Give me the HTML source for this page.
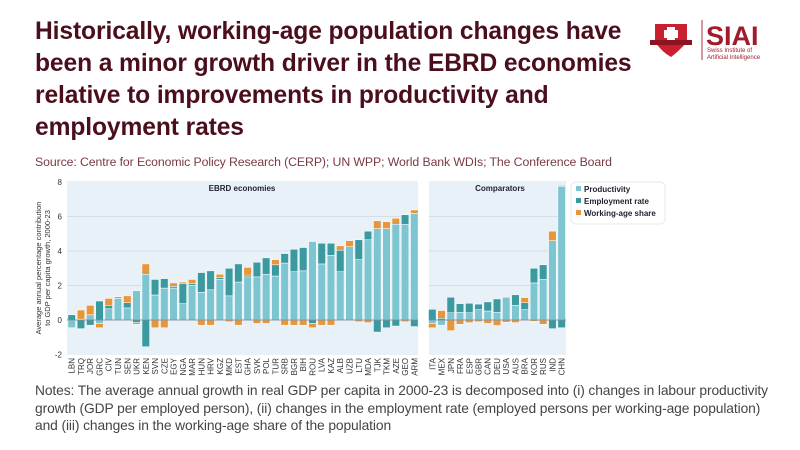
<!DOCTYPE html>
<html><head><meta charset="utf-8"><style>
body{margin:0;width:800px;height:450px;background:#fff;overflow:hidden;position:relative;font-family:"Liberation Sans",sans-serif}
#title{position:absolute;left:35px;top:16px;font-size:24.6px;font-weight:bold;line-height:32px;color:#4a0e1c;letter-spacing:-0.1px;white-space:nowrap}
#src{position:absolute;left:35px;top:155px;font-size:12.3px;color:#7a3a44;letter-spacing:-0.1px;white-space:nowrap}
#notes{position:absolute;left:35px;top:382px;font-size:13.8px;line-height:17.5px;color:#444;white-space:nowrap;letter-spacing:-0.1px}
svg{position:absolute;left:0;top:0}
</style></head><body>
<div id="title">Historically, working-age population changes have<br>been a minor growth driver in the EBRD economies<br>relative to improvements in productivity and<br>employment rates</div>
<div id="src">Source: Centre for Economic Policy Research (CERP); UN WPP; World Bank WDIs; The Conference Board</div>
<svg width="800" height="450" id="s" font-family="Liberation Sans, sans-serif">
<rect x="67" y="181" width="351" height="174" fill="#e9f1f8"/>
<rect x="429" y="181" width="137" height="174" fill="#e9f1f8"/>
<g stroke="#d5dde6" stroke-width="1">
<line x1="67" x2="418" y1="216.5" y2="216.5"/><line x1="67" x2="418" y1="251" y2="251"/><line x1="67" x2="418" y1="285.5" y2="285.5"/>
<line x1="429" x2="566" y1="216.5" y2="216.5"/><line x1="429" x2="566" y1="251" y2="251"/><line x1="429" x2="566" y1="285.5" y2="285.5"/>
</g>
<g id="bars"></g>
<line x1="67" x2="418" y1="320" y2="320" stroke="#6a7a88" stroke-width="0.8"/>
<line x1="429" x2="566" y1="320" y2="320" stroke="#6a7a88" stroke-width="0.8"/>
<g font-size="8" fill="#333" text-anchor="end">
<text x="62" y="185">8</text><text x="62" y="219.5">6</text><text x="62" y="254">4</text><text x="62" y="288.5">2</text><text x="62" y="323">0</text><text x="62" y="357.5">-2</text>
</g>
<text transform="translate(41,268) rotate(-90)" font-size="7.5" fill="#333" text-anchor="middle">Average annual percentage contribution</text>
<text transform="translate(50,268) rotate(-90)" font-size="7.5" fill="#333" text-anchor="middle">to GDP per capita growth, 2000-23</text>
<text x="242" y="191" font-size="8" font-weight="bold" fill="#223" text-anchor="middle">EBRD economies</text>
<text x="500" y="191" font-size="8" font-weight="bold" fill="#223" text-anchor="middle">Comparators</text>
<rect x="571" y="182" width="94" height="42" rx="5" fill="#fff" stroke="#e4e8ee"/>
<rect x="576" y="186" width="5" height="5" fill="#7ec5d2"/><rect x="576" y="198" width="5" height="5" fill="#3a9aa0"/><rect x="576" y="210" width="5" height="5" fill="#e8963c"/>
<g font-size="8" font-weight="bold" fill="#223"><text x="584" y="192">Productivity</text><text x="584" y="204">Employment rate</text><text x="584" y="216">Working-age share</text></g>
<g id="lab" font-size="8" fill="#333" text-anchor="end"></g>
<g>
<path d="M655 24 L687 24 L687 42 Q678 52 671 57 Q662 52 655 42 Z" fill="#c8202e"/>
<rect x="667" y="27" width="8" height="14" fill="#fff"/><rect x="664" y="30" width="14" height="8" fill="#fff"/>
<rect x="650" y="40" width="42" height="5" fill="#8a1420"/>
<line x1="702" y1="20" x2="702" y2="60" stroke="#b03040" stroke-width="1"/>
<text x="706" y="45" font-size="27" font-weight="bold" fill="#a01c2c">SIAI</text>
<text x="707" y="52" font-size="6" fill="#a01c2c">Swiss Institute of</text>
<text x="707" y="59" font-size="6" fill="#a01c2c">Artificial Intelligence</text>
</g>
</svg>
<div id="notes">Notes: The average annual growth in real GDP per capita in 2000-23 is decomposed into (i) changes in labour productivity<br>growth (GDP per employed person), (ii) changes in the employment rate (employed persons per working-age population)<br>and (iii) changes in the working-age share of the population</div>
<script>
var E=[["LBN",-0.45,0.3,0],["TRQ",0.05,-0.5,0.53],["JOR",0.3,-0.3,0.55],["GRC",-0.2,1.1,-0.25],["CIV",0.65,0.2,0.4],["TUN",1.25,0,0.1],["SEN",0.7,0.3,0.4],["UKR",1.7,-0.15,-0.1],["KEN",2.65,-1.55,0.6],["SVN",1.45,0.9,-0.45],["CZE",1.85,0.55,-0.45],["EGY",1.85,0.1,0.2],["NGA",0.95,1.15,0.1],["MAR",2.0,0.1,0.25],["HUN",1.6,1.15,-0.3],["HRV",1.75,1.1,-0.3],["KGZ",2.35,0.1,0.2],["MKD",1.4,1.6,-0.1],["EST",2.2,1.05,-0.3],["GHA",2.5,0.1,0.45],["SVK",2.5,0.85,-0.2],["POL",2.65,0.95,-0.2],["TUR",2.55,0.65,0.3],["SRB",3.3,0.55,-0.3],["BGR",2.8,1.3,-0.3],["BIH",2.85,1.35,-0.3],["ROU",4.55,-0.2,-0.25],["LVA",3.25,1.2,-0.3],["KAZ",3.75,0.7,-0.3],["ALB",2.8,1.25,0.25],["UZB",4.25,0,0.35],["LTU",3.5,1.15,-0.1],["MDA",4.65,0.5,-0.15],["TJK",5.3,-0.7,0.45],["TKM",5.3,-0.45,0.4],["AZE",5.55,-0.35,0.35],["GEO",5.55,0.55,-0.1],["ARM",6.18,-0.38,0.2]];
var C=[["ITA",-0.2,0.62,-0.25],["MEX",-0.3,0.1,0.45],["JPN",0.42,0.9,-0.62],["FRA",0.45,0.5,-0.25],["ESP",0.42,0.55,-0.15],["GBR",0.6,0.32,-0.1],["CAN",0.52,0.53,-0.2],["DEU",0.45,0.77,-0.32],["USA",1.32,0,-0.13],["AUS",0.85,0.61,-0.15],["BRA",0.6,0.4,0.3],["KOR",2.15,0.85,-0.08],["RUS",2.35,0.85,-0.25],["IND",4.6,-0.5,0.55],["CHN",7.75,-0.45,0.05]];
var col=["#7ec5d2","#3a9aa0","#e8963c"],ns="http://www.w3.org/2000/svg",g=document.getElementById("bars"),L=document.getElementById("lab"),k=17.25;
function draw(a,x0,p){a.forEach(function(d,i){var cx=x0+p*i,pos=0,neg=0;for(var j=0;j<3;j++){var v=d[j+1];if(!v)continue;var r=document.createElementNS(ns,"rect"),y,h=Math.abs(v)*k;if(v>0){y=320-(pos+v)*k;pos+=v}else{y=320+neg*k;neg-=v}r.setAttribute("x",cx-3.8);r.setAttribute("width",7.6);r.setAttribute("y",y);r.setAttribute("height",h);r.setAttribute("fill",col[j]);r.setAttribute("stroke","#fff");r.setAttribute("stroke-width","0.5");g.appendChild(r)}
var t=document.createElementNS(ns,"text");t.setAttribute("transform","translate("+(cx+3)+",358) rotate(-90)");t.textContent=d[0];L.appendChild(t)})}
draw(E,71.7,9.26);draw(C,432.3,9.24);
</script>
</body></html>
